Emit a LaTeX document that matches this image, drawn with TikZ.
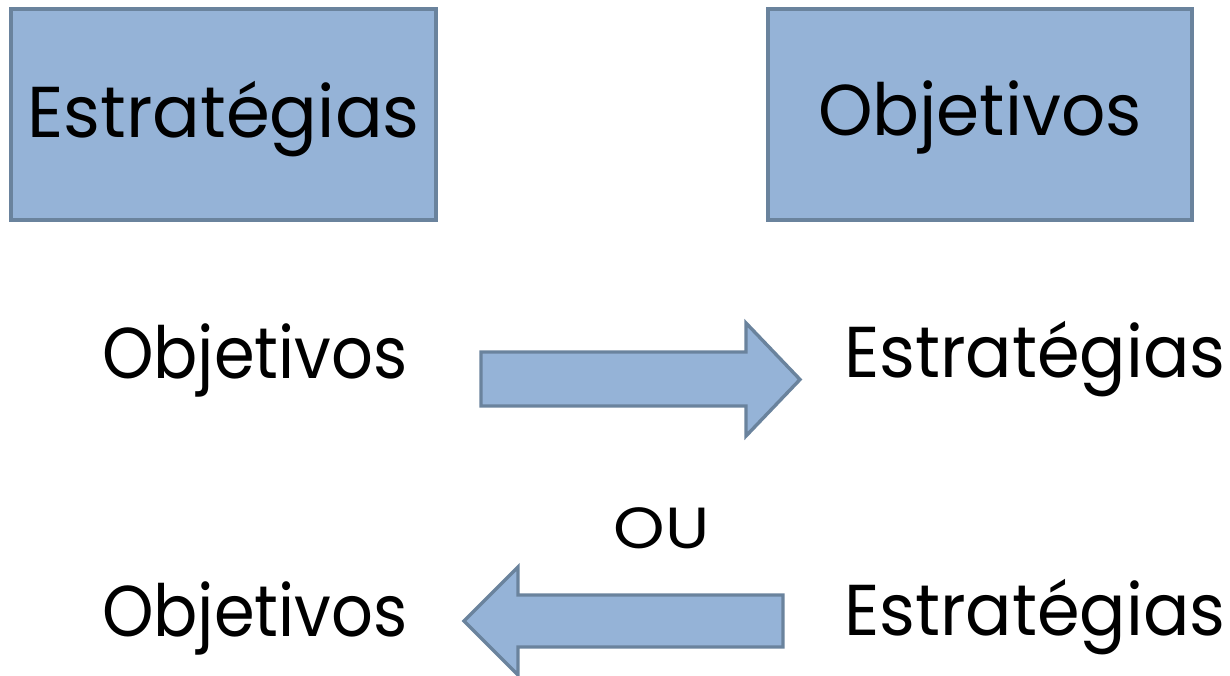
\documentclass[tikz,border=0pt]{standalone}
\usepackage{fontspec}
\setmainfont{Poppins}
\definecolor{boxfill}{HTML}{95B3D7}
\definecolor{boxline}{HTML}{6A839D}
\newcommand{\hsc}[2]{\scalebox{#1}[1]{#2}}
\begin{document}
\begin{tikzpicture}[x=1pt,y=-1pt,
  bluebox/.style={draw=boxline,fill=boxfill,line width=3.4pt,inner sep=0pt},
  bigtext/.style={font=\fontsize{72}{80}\selectfont,inner sep=0pt},
  fatarrow/.style={draw=boxline,fill=boxfill,line width=3.4pt,line join=miter}]
\useasboundingbox (0,0) rectangle (1230,675);
\node[bluebox,bigtext,minimum width=425pt,minimum height=211pt,text height=50pt,text depth=5pt] (estA) at (223.5,114.5) {\hsc{0.982}{Estratégias}};
\node[bluebox,bigtext,minimum width=424pt,minimum height=211pt,text height=50pt,text depth=9pt] (objA) at (980,114.5) {\hsc{0.964}{Objetivos}};
\node[bigtext,anchor=base west] (objB) at (102,378) {\hsc{0.91}{Objetivos}};
\node[bigtext,anchor=base west] (estB) at (844,377) {\hsc{0.954}{Estratégias}};
\node[bigtext,anchor=base west] (objC) at (102,636) {\hsc{0.91}{Objetivos}};
\node[bigtext,anchor=base west] (estC) at (844,635) {\hsc{0.954}{Estratégias}};
\node[font=\fontsize{58}{62}\selectfont,inner sep=0pt,anchor=base] (ou) at (661.5,548) {\hsc{1.13}{OU}};
\draw[fatarrow] (481,352) -- (746,352) -- (746,323) -- (800,379.5) -- (746,436) -- (746,406) -- (481,406) -- cycle;
\draw[fatarrow] (783,595) -- (518,595) -- (518,567) -- (464,621) -- (518,675) -- (518,647) -- (783,647) -- cycle;
\end{tikzpicture}
\end{document}
